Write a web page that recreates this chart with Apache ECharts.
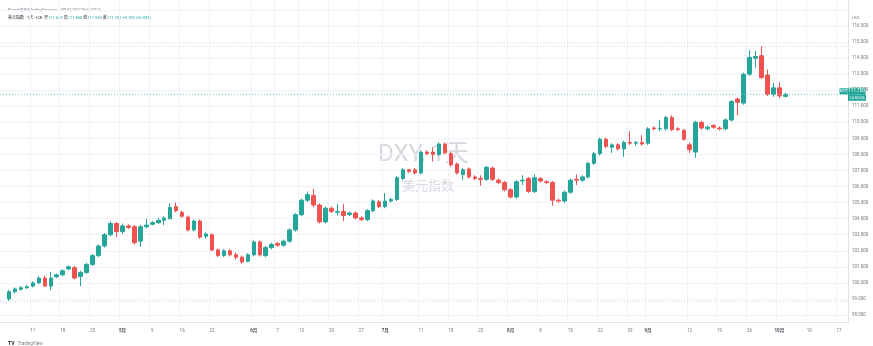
<!DOCTYPE html>
<html style="height: 100%; margin: 0;">
<head>
<meta charset="utf-8" />
<title>DXY</title>
<script src="https://cdn.jsdelivr.net/npm/echarts@6/dist/echarts.min.js"></script>
</head>
<body style="height: 100%; margin: 0; background: #fff;">
<div id="main" style="width: 873px; height: 346px;"></div>
<script type="text/javascript">
// 交易日 2022-04-04 ~ 2022-10-18 (周一到周五)
var dates = [];
for (var d = new Date(Date.UTC(2022, 3, 4)); d <= new Date(Date.UTC(2022, 9, 18)); d.setUTCDate(d.getUTCDate() + 1)) {
  var wd = d.getUTCDay();
  if (wd !== 0 && wd !== 6) dates.push(d.toISOString().slice(0, 10));
}

// K线数据，从 04-05 到 10-04
var opens = [
  99.00, 99.45, 99.60, 99.70, 99.80, 100.00, 100.30, 99.80, 100.38, 100.50,
  100.87, 100.95, 100.40, 100.65, 101.15, 101.70, 102.30, 103.00, 103.70, 103.20,
  103.55, 103.50, 102.60, 103.50, 103.65, 103.75, 103.90, 104.00, 104.75, 104.40,
  104.10, 103.30, 103.85, 102.90, 103.00, 102.05, 101.70, 102.00, 101.75, 101.60,
  101.35, 101.75, 102.55, 101.70, 102.20, 102.45, 102.35, 102.60, 103.30, 104.25,
  105.15, 105.45, 104.85, 103.80, 104.65, 104.40, 104.45, 104.25, 104.35, 104.05,
  103.95, 104.50, 105.05, 104.75, 105.10, 105.20, 106.50, 107.05, 107.05, 106.85,
  108.15, 108.15, 108.00, 108.65, 108.05, 107.40, 106.75, 107.10, 106.60, 106.50,
  106.45, 107.15, 106.40, 106.25, 105.80, 105.35, 106.35, 106.50, 105.70, 106.50,
  106.30, 106.25, 105.15, 105.10, 105.65, 106.45, 106.40, 106.60, 107.45, 108.05,
  108.95, 108.45, 108.60, 108.35, 108.75, 108.70, 108.75, 108.70, 109.65, 109.60,
  109.60, 110.30, 109.60, 109.50, 108.60, 108.15, 110.00, 109.60, 109.80, 109.65,
  109.60, 110.15, 111.45, 111.20, 113.00, 114.00, 114.15, 112.95, 111.75, 112.15,
  111.62
];
var closes = [
  99.45, 99.62, 99.70, 99.76, 100.00, 100.30, 99.80, 100.30, 100.50, 100.75,
  101.00, 100.30, 100.65, 101.15, 101.70, 102.30, 103.00, 103.70, 103.20, 103.55,
  103.45, 102.50, 103.50, 103.60, 103.75, 103.90, 104.05, 104.70, 104.50, 104.15,
  103.30, 103.85, 102.85, 103.05, 102.05, 101.70, 102.00, 101.75, 101.60, 101.30,
  101.75, 102.55, 101.75, 102.20, 102.40, 102.35, 102.60, 103.30, 104.25, 105.15,
  105.50, 104.85, 103.80, 104.65, 104.45, 104.45, 104.20, 104.35, 104.05, 103.95,
  104.50, 105.10, 104.75, 105.10, 105.20, 106.55, 107.05, 106.95, 106.85, 108.15,
  108.05, 108.00, 108.65, 108.10, 107.35, 106.85, 107.05, 106.60, 106.50, 106.45,
  107.20, 106.45, 106.25, 105.80, 105.35, 106.30, 106.40, 105.70, 106.55, 106.35,
  106.25, 105.15, 105.10, 105.65, 106.40, 106.40, 106.60, 107.45, 108.05, 108.95,
  108.50, 108.60, 108.35, 108.75, 108.70, 108.75, 108.65, 109.60, 109.60, 109.62,
  110.30, 109.55, 109.55, 108.95, 108.30, 110.00, 109.65, 109.70, 109.70, 109.60,
  110.15, 111.30, 111.25, 113.00, 114.05, 114.10, 112.80, 111.75, 112.15, 111.65,
  111.75
];
var lows = [
  98.88, 99.35, 99.52, 99.62, 99.72, 99.92, 99.75, 99.55, 100.30, 100.42,
  100.80, 100.22, 99.80, 100.55, 101.05, 101.60, 102.20, 102.90, 102.85, 103.05,
  103.35, 102.40, 102.25, 103.40, 103.58, 103.68, 103.60, 103.95, 104.40, 104.05,
  103.20, 103.20, 102.75, 102.75, 101.95, 101.60, 101.62, 101.65, 101.45, 101.20,
  101.28, 101.65, 101.65, 101.60, 102.10, 102.25, 102.25, 102.50, 103.20, 104.15,
  105.05, 104.70, 103.70, 103.70, 104.35, 104.20, 103.85, 104.15, 103.95, 103.85,
  103.85, 104.40, 104.65, 104.65, 105.00, 105.10, 106.40, 106.85, 106.75, 106.75,
  107.95, 107.55, 107.90, 108.00, 107.25, 106.75, 106.40, 106.50, 106.40, 106.05,
  106.35, 106.35, 106.15, 105.70, 105.25, 105.25, 106.10, 105.60, 105.60, 106.25,
  106.15, 104.80, 105.00, 105.00, 105.55, 106.10, 106.30, 106.50, 107.35, 107.95,
  108.40, 108.10, 108.25, 107.85, 108.60, 108.55, 108.55, 108.60, 109.50, 109.45,
  109.50, 109.45, 109.45, 108.85, 108.10, 107.80, 109.55, 109.50, 109.60, 109.50,
  109.50, 110.05, 110.45, 111.10, 112.90, 113.40, 112.70, 111.65, 111.60, 111.50,
  111.55
];
var highs = [
  99.55, 99.72, 99.80, 99.88, 100.10, 100.42, 100.45, 100.70, 100.58, 100.85,
  101.08, 101.05, 100.75, 101.25, 101.80, 102.40, 103.10, 103.85, 103.80, 103.70,
  103.65, 103.60, 103.60, 104.00, 103.85, 104.05, 104.15, 104.95, 105.00, 104.50,
  104.20, 103.95, 103.95, 103.15, 103.10, 102.15, 102.10, 102.10, 101.90, 101.70,
  101.85, 102.65, 102.65, 102.30, 102.50, 102.55, 102.70, 103.40, 104.35, 105.25,
  105.70, 105.85, 104.95, 104.75, 104.75, 104.90, 104.90, 104.45, 104.45, 104.15,
  104.60, 105.20, 105.15, 105.60, 105.30, 106.65, 107.15, 107.10, 107.15, 108.25,
  108.25, 108.45, 108.75, 108.75, 108.15, 107.50, 107.15, 107.20, 106.70, 106.70,
  107.30, 107.25, 106.50, 106.35, 105.90, 106.40, 106.70, 106.60, 106.75, 106.60,
  106.40, 106.35, 105.25, 105.75, 106.50, 106.75, 106.70, 107.55, 108.15, 109.05,
  109.05, 108.70, 108.70, 108.85, 109.45, 108.85, 109.20, 109.70, 109.75, 110.15,
  110.40, 110.45, 109.70, 109.60, 108.75, 110.10, 110.10, 109.80, 109.90, 109.75,
  110.25, 111.40, 111.55, 113.10, 114.50, 114.45, 114.75, 113.30, 112.45, 112.50,
  111.85
];

// 时间轴刻度
var tickDates = ['2022-04-11', '2022-04-18', '2022-04-25', '2022-05-02', '2022-05-09', '2022-05-16',
  '2022-05-23', '2022-06-01', '2022-06-07', '2022-06-13', '2022-06-20', '2022-06-27', '2022-07-01',
  '2022-07-11', '2022-07-18', '2022-07-25', '2022-08-01', '2022-08-08', '2022-08-15', '2022-08-22',
  '2022-08-29', '2022-09-01', '2022-09-12', '2022-09-19', '2022-09-26', '2022-10-03', '2022-10-10',
  '2022-10-17'];
var tickTexts = ['11', '18', '25', '5月', '9', '16', '23', '6月', '7', '13', '20', '27', '7月',
  '11', '18', '25', '8月', '8', '15', '22', '29', '9月', '12', '19', '26', '10月', '10', '17'];
var priceTicks = [98, 99, 100, 101, 102, 103, 104, 105, 106, 107, 108, 109, 110, 111, 112, 113, 114, 115, 116];

var tickMap = {};
tickDates.forEach(function (t, i) { tickMap[t] = tickTexts[i]; });

var candles = ['-'];
for (var i = 0; i < opens.length; i++) {
  candles.push([opens[i], closes[i], lows[i], highs[i]]);
}
var lastClose = closes[closes.length - 1];

var UP = '#26a69a', DOWN = '#ef5350', GRID = '#f0f3fa', TXT = '#131722', MUTED = '#787b86';
var FONT = 'Roboto, "Noto Sans CJK SC", sans-serif';

var myChart = echarts.init(document.getElementById('main'));
myChart.setOption({
  animation: false,
  backgroundColor: '#ffffff',
  textStyle: { fontFamily: FONT },
  grid: [
    { left: 0, right: 25, top: 10, bottom: 31 },
    { left: 0, right: 25, top: 0, bottom: 24 }
  ],
  xAxis: [
    {
      type: 'category', gridIndex: 0, data: dates, boundaryGap: true,
      axisLine: { show: false }, axisTick: { show: false }, axisLabel: { show: false },
      splitLine: { show: false }
    },
    {
      type: 'category', gridIndex: 1, data: dates, boundaryGap: true,
      axisLine: { show: true, lineStyle: { color: '#e0e3eb', width: 1 } },
      axisTick: { show: false },
      axisLabel: {
        interval: function (idx, val) { return tickMap[val] !== undefined; },
        formatter: function (val) {
          var t = tickMap[val];
          return t.indexOf('月') >= 0 ? '{b|' + t + '}' : t;
        },
        rich: { b: { fontWeight: 'bold', fontSize: 4.5, color: '#4a4d57' } },
        fontSize: 4.5, color: MUTED, margin: 7
      },
      splitLine: {
        show: true,
        interval: function (idx, val) { return tickMap[val] !== undefined; },
        lineStyle: { color: GRID, width: 1 }
      }
    }
  ],
  yAxis: [
    {
      type: 'value', gridIndex: 0, position: 'right', min: 98, max: 117, interval: 1,
      axisLine: { show: false }, axisTick: { show: false },
      axisLabel: {
        fontSize: 4.5, color: MUTED, margin: 4,
        formatter: function (v) { return priceTicks.indexOf(v) >= 0 ? v.toFixed(3) : ''; }
      },
      splitLine: { show: true, lineStyle: { color: GRID, width: 1 } }
    },
    {
      type: 'value', gridIndex: 1, position: 'right',
      axisLine: { show: true, lineStyle: { color: '#e0e3eb', width: 1 } },
      axisTick: { show: false }, axisLabel: { show: false }, splitLine: { show: false }
    }
  ],
  graphic: [
    { type: 'text', left: 378, top: 143, z: 0, style: { text: 'DXY, 1天', font: '24px ' + FONT, fill: '#d6d8de' } },
    { type: 'text', left: 402, top: 180, z: 0, style: { text: '美元指数', font: '13px ' + FONT, fill: '#d6d8de' } },
    { type: 'text', left: 8, top: 8, style: { text: 'Plumeh发布于TradingView.com, 10月 04, 2022 09:54 UTC-4', font: '3.5px ' + FONT, fill: MUTED } },
    {
      type: 'text', left: 8, top: 16,
      style: {
        rich: {
          k: { fontSize: 4, fill: TXT, fontFamily: FONT },
          v: { fontSize: 4, fill: UP, fontFamily: FONT }
        },
        text: '{k|美元指数 · 1天 · ICE  开}{v|111.620 }{k|高}{v|111.850 }{k|低}{v|111.550 }{k|收}{v|111.750 }{v|+0.100 (+0.09%)}'
      }
    },
    { type: 'text', left: 852, top: 16, style: { text: 'USD', font: '4px ' + FONT, fill: MUTED } },
    {
      type: 'text', left: 8, top: 338,
      style: {
        rich: {
          l: { fontSize: 5, fontWeight: 'bold', fill: TXT, fontFamily: FONT },
          t: { fontSize: 4.5, fill: MUTED, fontFamily: FONT }
        },
        text: '{l|TV} {t|TradingView}'
      }
    }
  ],
  series: [
    {
      type: 'candlestick',
      xAxisIndex: 0, yAxisIndex: 0,
      data: candles,
      barWidth: 4,
      z: 3,
      itemStyle: { color: UP, color0: DOWN, borderColor: UP, borderColor0: DOWN, borderWidth: 1 },
      markLine: {
        silent: true,
        symbol: ['none', 'none'],
        animation: false,
        data: [
          { type: 'max', valueDim: 'highest', label: { show: false }, lineStyle: { color: '#d1d4dc', type: [1, 2], width: 1 } },
          { type: 'min', valueDim: 'lowest', label: { show: false }, lineStyle: { color: '#d1d4dc', type: [1, 2], width: 1 } },
          {
            yAxis: lastClose,
            lineStyle: { color: '#7fcac3', type: [1, 2], width: 1 },
            label: {
              show: true, position: 'end', distance: -9,
              formatter: '{n|DXY}{p|' + lastClose.toFixed(3) + '}\n{s|}{c|14:05:06}',
              rich: {
                n: { backgroundColor: UP, color: '#fff', fontSize: 4, width: 8, height: 6, align: 'center', fontFamily: FONT },
                p: { backgroundColor: UP, color: '#fff', fontSize: 4.5, width: 18, height: 7, align: 'center', fontFamily: FONT },
                s: { width: 9, height: 6 },
                c: { backgroundColor: UP, color: '#fff', fontSize: 4, width: 18, height: 6, align: 'center', fontFamily: FONT }
              }
            }
          }
        ]
      }
    }
  ]
});
window.onresize = myChart.resize;
</script>
</body>
</html>
